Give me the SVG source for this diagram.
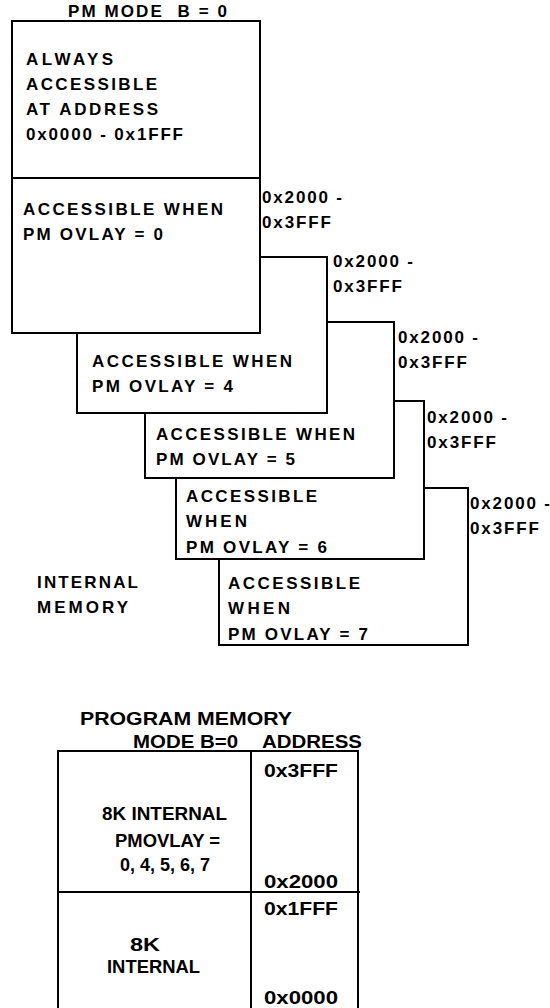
<svg xmlns="http://www.w3.org/2000/svg" width="550" height="1008" viewBox="0 0 550 1008">
<style>
  .box { fill: #fff; stroke: #000; stroke-width: 2; }
  .ln { fill: none; stroke: #000; stroke-width: 2; }
  .t { font-family: "Liberation Sans", Arial, sans-serif; font-weight: bold; font-size: 17px; fill: #000; }
  .b { font-family: "Liberation Sans", Arial, sans-serif; font-weight: bold; font-size: 18.5px; fill: #000; }
</style>
<rect x="0" y="0" width="550" height="1008" fill="#fff"/>

<g id="title-pm-mode">
  <text class="t" x="68" y="17" textLength="159" lengthAdjust="spacing" xml:space="preserve">PM MODE  B = 0</text>
</g>

<g id="overlay-7">
  <rect class="box" x="219" y="488" width="249" height="157"/>
  <text class="t" x="228" y="589" textLength="132" lengthAdjust="spacing">ACCESSIBLE</text>
  <text class="t" x="228" y="614" textLength="62" lengthAdjust="spacing">WHEN</text>
  <text class="t" x="228" y="640" textLength="140" lengthAdjust="spacing">PM OVLAY = 7</text>
</g>

<g id="overlay-6">
  <rect class="box" x="176" y="401" width="248" height="158"/>
  <text class="t" x="186" y="502" textLength="131" lengthAdjust="spacing">ACCESSIBLE</text>
  <text class="t" x="186" y="527" textLength="61" lengthAdjust="spacing">WHEN</text>
  <text class="t" x="186" y="553" textLength="141" lengthAdjust="spacing">PM OVLAY = 6</text>
</g>

<g id="overlay-5">
  <rect class="box" x="145" y="322" width="249" height="156"/>
  <text class="t" x="156" y="440" textLength="199" lengthAdjust="spacing">ACCESSIBLE WHEN</text>
  <text class="t" x="156" y="465" textLength="139" lengthAdjust="spacing">PM OVLAY = 5</text>
</g>

<g id="overlay-4">
  <rect class="box" x="77" y="257" width="250" height="156"/>
  <text class="t" x="92" y="367" textLength="200" lengthAdjust="spacing">ACCESSIBLE WHEN</text>
  <text class="t" x="92" y="392" textLength="141" lengthAdjust="spacing">PM OVLAY = 4</text>
</g>

<g id="main-box">
  <rect class="box" x="12" y="21" width="248" height="312"/>
  <line class="ln" x1="12" y1="178" x2="260" y2="178"/>
  <text class="t" x="26" y="65" textLength="87" lengthAdjust="spacing">ALWAYS</text>
  <text class="t" x="26" y="90" textLength="131" lengthAdjust="spacing">ACCESSIBLE</text>
  <text class="t" x="26" y="115" textLength="132" lengthAdjust="spacing">AT ADDRESS</text>
  <text class="t" x="26" y="140" textLength="157" lengthAdjust="spacing">0x0000 - 0x1FFF</text>
  <text class="t" x="23" y="215" textLength="200" lengthAdjust="spacing">ACCESSIBLE WHEN</text>
  <text class="t" x="23" y="240" textLength="140" lengthAdjust="spacing">PM OVLAY = 0</text>
</g>

<g id="address-labels">
  <text class="t" x="262" y="203" textLength="80" lengthAdjust="spacing">0x2000 -</text>
  <text class="t" x="262" y="228" textLength="69" lengthAdjust="spacing">0x3FFF</text>
  <text class="t" x="333" y="267" textLength="80" lengthAdjust="spacing">0x2000 -</text>
  <text class="t" x="333" y="292" textLength="69" lengthAdjust="spacing">0x3FFF</text>
  <text class="t" x="398" y="343" textLength="80" lengthAdjust="spacing">0x2000 -</text>
  <text class="t" x="398" y="368" textLength="69" lengthAdjust="spacing">0x3FFF</text>
  <text class="t" x="427" y="423" textLength="80" lengthAdjust="spacing">0x2000 -</text>
  <text class="t" x="427" y="448" textLength="69" lengthAdjust="spacing">0x3FFF</text>
  <text class="t" x="470" y="509" textLength="80" lengthAdjust="spacing">0x2000 -</text>
  <text class="t" x="470" y="534" textLength="69" lengthAdjust="spacing">0x3FFF</text>
</g>

<g id="internal-memory-label">
  <text class="t" x="37" y="588" textLength="101" lengthAdjust="spacing">INTERNAL</text>
  <text class="t" x="37" y="613" textLength="91" lengthAdjust="spacing">MEMORY</text>
</g>

<g id="connectors"></g>

<g id="program-memory-table">
  <text class="b" x="80" y="725" textLength="212" lengthAdjust="spacingAndGlyphs">PROGRAM MEMORY</text>
  <text class="b" x="133" y="748" textLength="105" lengthAdjust="spacingAndGlyphs">MODE B=0</text>
  <text class="b" x="262" y="748" textLength="100" lengthAdjust="spacingAndGlyphs">ADDRESS</text>
  <path class="ln" d="M58,1012 V751 H358 V1012 M251,751 V1012 M58,892 H360"/>
  <text class="b" x="264" y="777" textLength="74" lengthAdjust="spacingAndGlyphs">0x3FFF</text>
  <text class="b" x="102" y="820" textLength="125" lengthAdjust="spacingAndGlyphs">8K INTERNAL</text>
  <text class="b" x="115" y="847" textLength="105" lengthAdjust="spacingAndGlyphs">PMOVLAY =</text>
  <text class="b" x="120" y="871" textLength="90" lengthAdjust="spacingAndGlyphs">0, 4, 5, 6, 7</text>
  <text class="b" x="264" y="888" textLength="74" lengthAdjust="spacingAndGlyphs">0x2000</text>
  <text class="b" x="264" y="915" textLength="74" lengthAdjust="spacingAndGlyphs">0x1FFF</text>
  <text class="b" x="130" y="951" textLength="30" lengthAdjust="spacingAndGlyphs">8K</text>
  <text class="b" x="107" y="973" textLength="93" lengthAdjust="spacingAndGlyphs">INTERNAL</text>
  <text class="b" x="264" y="1004" textLength="74" lengthAdjust="spacingAndGlyphs">0x0000</text>
</g>
</svg>
